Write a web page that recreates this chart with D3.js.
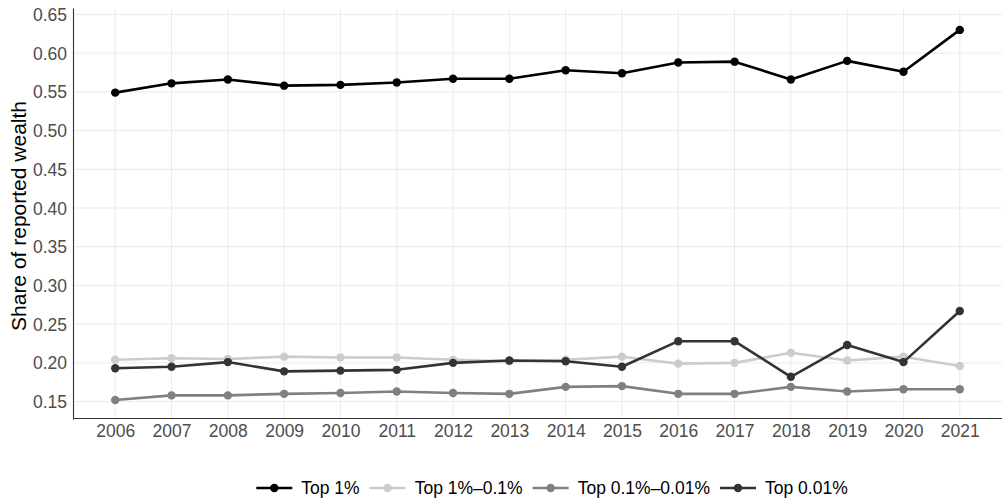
<!DOCTYPE html>
<html>
<head>
<meta charset="utf-8">
<script src="https://cdn.jsdelivr.net/npm/d3@7"></script>
<style>
  body { margin: 0; background: #fff; }
  svg { display: block; font-family: "Liberation Sans", Arial, sans-serif; }
</style>
</head>
<body>
<svg id="chart" width="1002" height="504"></svg>
<script>
const years = [2006,2007,2008,2009,2010,2011,2012,2013,2014,2015,2016,2017,2018,2019,2020,2021];
const seriesNames = ["Top 1%", "Top 1%\u20130.1%", "Top 0.1%\u20130.01%", "Top 0.01%"];
const top1 = [0.549,0.561,0.566,0.558,0.559,0.562,0.567,0.567,0.578,0.574,0.588,0.589,0.566,0.590,0.576,0.630];
const top1to01 = [0.204,0.206,0.205,0.208,0.207,0.207,0.204,0.202,0.204,0.208,0.199,0.200,0.213,0.203,0.208,0.196];
const top01to001 = [0.152,0.158,0.158,0.160,0.161,0.163,0.161,0.160,0.169,0.170,0.160,0.160,0.169,0.163,0.166,0.166];
const top001 = [0.193,0.195,0.201,0.189,0.190,0.191,0.200,0.203,0.202,0.195,0.228,0.228,0.182,0.223,0.201,0.267];
const yTicks = [0.15,0.20,0.25,0.30,0.35,0.40,0.45,0.50,0.55,0.60,0.65];
const colors = ["#000000", "#cccccc", "#808080", "#333333"];

const series = [top1, top1to01, top01to001, top001].map((vals, i) => ({
  name: seriesNames[i], color: colors[i], values: vals.map((v, j) => ({year: years[j], value: v}))
}));

const svg = d3.select("#chart");
const pLeft = 73, pRight = 1002, pTop = 9, pBottom = 418;
const tickFont = "17.5px";

const x = d3.scaleLinear().domain([2005.25, 2021.75]).range([pLeft, pRight]);
const y = d3.scaleLinear().domain([0.1275, 0.6583]).range([pBottom + 1, 8]);

// grid
const grid = svg.append("g");
grid.selectAll("line.h").data(yTicks).enter().append("line")
  .attr("x1", pLeft).attr("x2", pRight)
  .attr("y1", d => y(d)).attr("y2", d => y(d))
  .attr("stroke", "#ebebeb").attr("stroke-width", 1);
grid.selectAll("line.v").data(years).enter().append("line")
  .attr("y1", pTop).attr("y2", pBottom)
  .attr("x1", d => x(d)).attr("x2", d => x(d))
  .attr("stroke", "#ebebeb").attr("stroke-width", 1);

// axes
const yAxis = svg.append("g").attr("transform", `translate(${pLeft},0)`)
  .call(d3.axisLeft(y).tickValues(yTicks).tickFormat(d3.format(".2f")).tickSize(0).tickPadding(6));
const xAxis = svg.append("g").attr("transform", `translate(0,${pBottom})`)
  .call(d3.axisBottom(x).tickValues(years).tickFormat(d3.format("d")).tickSize(0).tickPadding(7));
[yAxis, xAxis].forEach(a => {
  a.select(".domain").attr("stroke", "#333333").attr("stroke-width", 1.1);
  a.selectAll("text").attr("fill", "#4d4d4d").style("font-size", tickFont)
    .style("font-family", "'Liberation Sans', Arial, sans-serif");
});
yAxis.selectAll("text").attr("dy", "0.35em");
xAxis.selectAll("text").attr("dy", "0.71em");

// y title
svg.append("text")
  .attr("transform", `translate(26,216) rotate(-90)`)
  .attr("text-anchor", "middle")
  .style("font-size", "21px").attr("fill", "#000")
  .text("Share of reported wealth");

// lines
const line = d3.line().x(d => x(d.year)).y(d => y(d.value));
const g = svg.append("g");
series.forEach(s => {
  g.append("path").datum(s.values).attr("d", line)
    .attr("fill", "none").attr("stroke", s.color).attr("stroke-width", 2.6)
    .attr("stroke-linejoin", "round");
  g.selectAll(null).data(s.values).enter().append("circle")
    .attr("cx", d => x(d.year)).attr("cy", d => y(d.value)).attr("r", 4.2)
    .attr("fill", s.color);
});

// legend
const legend = svg.append("g");
const ly = 488;
const keyW = 36;
const keyGap = 9;
const itemGap = 10;
const widths = seriesNames.map(n => {
  const t = legend.append("text").style("font-size", tickFont).text(n);
  const w = t.node().getComputedTextLength();
  t.remove();
  return w;
});
const total = widths.reduce((a, w) => a + keyW + keyGap + w, 0) + itemGap * (seriesNames.length - 1);
let lx = 552 - total / 2;
series.forEach((s, i) => {
  legend.append("line").attr("x1", lx).attr("x2", lx + keyW).attr("y1", ly).attr("y2", ly)
    .attr("stroke", s.color).attr("stroke-width", 2.6);
  legend.append("circle").attr("cx", lx + keyW / 2).attr("cy", ly).attr("r", 4.2).attr("fill", s.color);
  legend.append("text").attr("x", lx + keyW + keyGap).attr("y", ly).attr("dy", "0.35em")
    .style("font-size", tickFont).attr("fill", "#000").text(s.name);
  lx += keyW + keyGap + widths[i] + itemGap;
});
</script>
</body>
</html>
